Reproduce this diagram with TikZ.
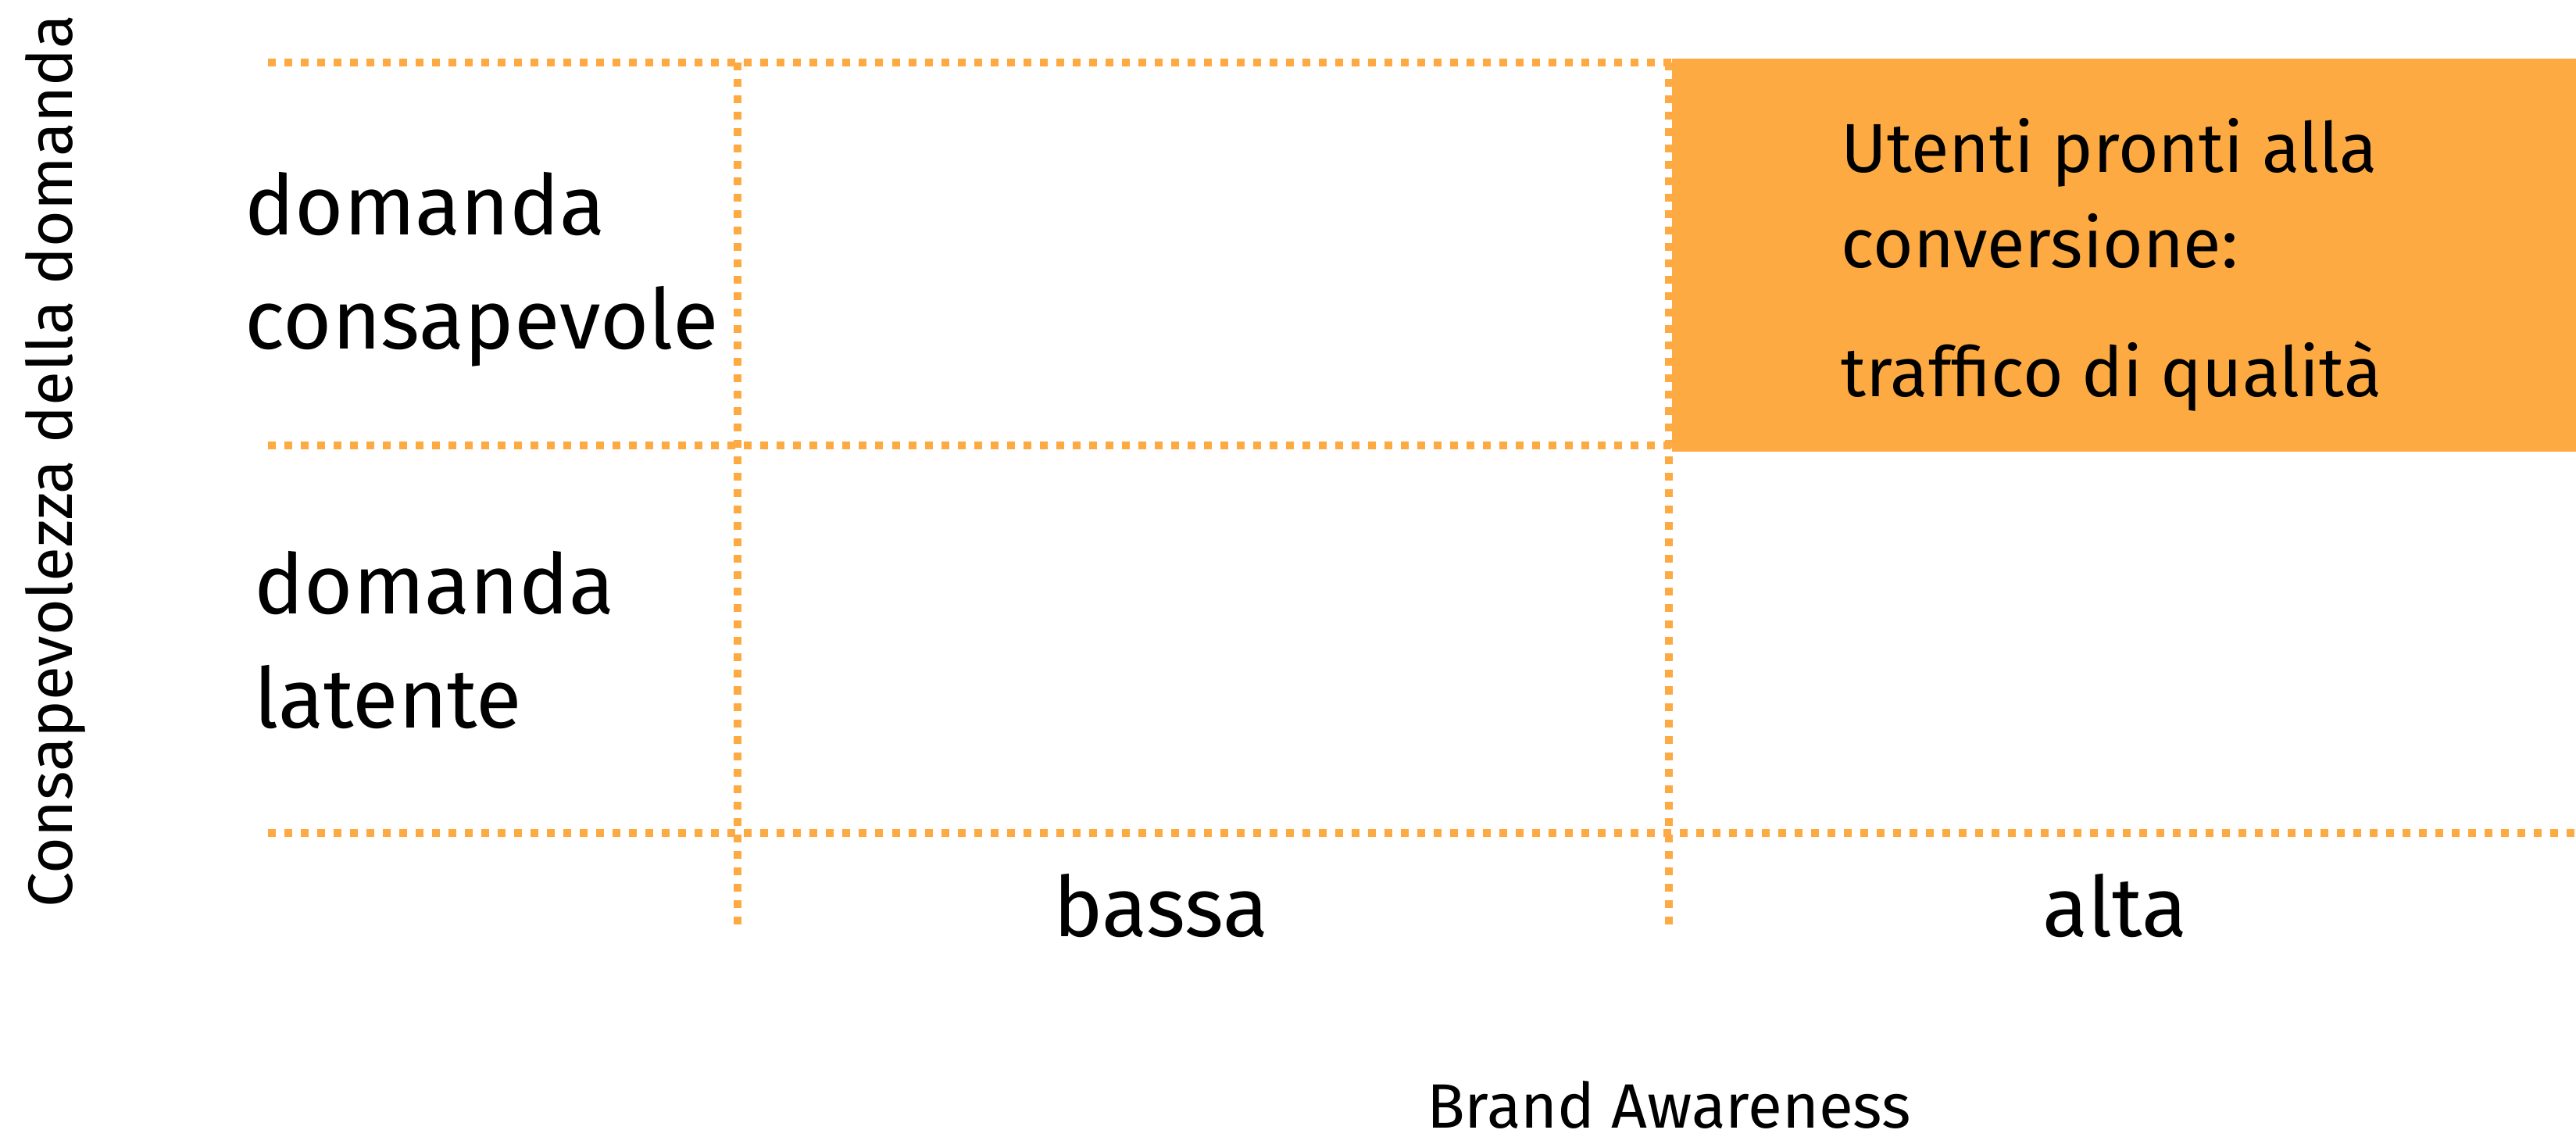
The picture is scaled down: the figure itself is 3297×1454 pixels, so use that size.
\documentclass[tikz,border=0pt]{standalone}
\usepackage{fontspec}
\setmainfont{Fira Sans}
\definecolor{gridorange}{RGB}{253,170,66}
\begin{document}
\begin{tikzpicture}
      [
      x=0.01cm, y=-0.01cm,
      gridline/.style={draw=gridorange,line width=0.1cm,dash pattern=on 0.1cm off 0.11cm},
      rowlabel/.style={anchor=base west,align=left,inner sep=0pt,font=\fontsize{30.4}{41.5}\selectfont},
      collabel/.style={anchor=base,inner sep=0pt,font=\fontsize{30.4}{36}\selectfont},
      axislabel/.style={anchor=base,inner sep=0pt,font=\fontsize{22.8}{27}\selectfont}
      ]
      \useasboundingbox (0,0) rectangle (3297,1454);
      \foreach \y in {80,570,1066}
        \draw [gridline] (343,\y) -- (3297,\y);
      \foreach \x in {944,2136}
        \draw [gridline] (\x,80) -- (\x,1184);
      \fill [gridorange] (2140,75) rectangle (3297,578);
      \node (aware) at (313,446) [rowlabel] {domanda\\consapevole};
      \node (latent) at (325,931) [rowlabel] {domanda\\latente};
      \node (low) at (1486,1198) [collabel] {bassa};
      \node (high) at (2707,1198) [collabel] {alta};
      \node (ready) at (2356,507) [rowlabel,font=\fontsize{25.2}{34.7}\selectfont]
        {Utenti pronti alla\\conversione:\\[12pt]traffico di qualità};
      \node (brand) at (2136,1443) [axislabel] {Brand Awareness};
      \node (demand) at (92,590) [axislabel,rotate=90] {Consapevolezza della domanda};
    \end{tikzpicture}
\end{document}
